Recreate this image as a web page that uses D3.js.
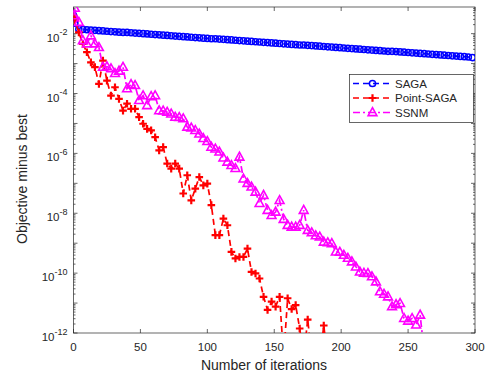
<!DOCTYPE html>
<html>
<head>
<meta charset="utf-8">
<script src="https://cdn.jsdelivr.net/npm/d3@7"></script>
<style>
  body { margin: 0; background: #fff; }
  svg { display: block; font-family: "Liberation Sans", Arial, Helvetica, sans-serif; }
  text { fill: #262626; }
</style>
</head>
<body>
<svg id="chart" width="499" height="376"></svg>
<script>
// values are log10(objective - best)
// recorded at iteration 0, then every 3 iterations starting at 1
const iterStep = 3
const xTicks = [0, 50, 100, 150, 200, 250, 300]
const yTickExp = [-12, -10, -8, -6, -4, -2]
const seriesNames = ['SAGA', 'Point-SAGA', 'SSNM']

const sagaLog = [-1.40, -1.65,
  -1.85,-1.86,-1.87,-1.88,-1.89,-1.90,-1.91,-1.92,-1.93,-1.94,
  -1.95,-1.96,-1.96,-1.97,-1.98,-1.99,-2.00,-2.01,-2.02,-2.03,
  -2.04,-2.05,-2.06,-2.07,-2.08,-2.09,-2.10,-2.11,-2.12,-2.13,
  -2.14,-2.15,-2.16,-2.17,-2.17,-2.18,-2.19,-2.20,-2.21,-2.22,
  -2.23,-2.24,-2.25,-2.26,-2.27,-2.28,-2.29,-2.30,-2.31,-2.32,
  -2.33,-2.34,-2.35,-2.36,-2.37,-2.38,-2.38,-2.39,-2.40,-2.41,
  -2.42,-2.43,-2.44,-2.45,-2.46,-2.47,-2.48,-2.49,-2.50,-2.51,
  -2.52,-2.53,-2.54,-2.55,-2.56,-2.57,-2.58,-2.59,-2.59,-2.60,
  -2.61,-2.62,-2.63,-2.64,-2.65,-2.66,-2.67,-2.68,-2.69,-2.70,
  -2.71,-2.72,-2.73,-2.74,-2.75,-2.76,-2.77,-2.78,-2.80]

const pointSagaLog = [-1.40,
  -1.55,-1.96,-2.34,-2.62,-2.96,-3.12,-3.68,-2.90,-3.57,-4.07,
  -3.79,-4.18,-4.57,-4.34,-4.51,-4.51,-4.79,-5.01,-5.18,-5.23,
  -5.46,-5.90,-5.79,-6.34,-6.51,-6.34,-6.51,-7.34,-6.73,-7.57,
  -7.18,-6.79,-7.07,-7.01,-7.73,-8.73,-8.73,-8.18,-8.40,-9.29,
  -9.51,-9.46,-9.46,-9.18,-9.96,-10.01,-10.18,-10.79,-11.23,-10.95,
  -11.12,-10.79,-12.8,-10.84,-11.20,-11.07,-11.85,-12.8,-11.55,-12.8,
  -12.9,-12.9,-11.75,-12.9]

const ssnmLog = [-1.40,
  -1.15,-1.62,-2.23,-2.34,-2.07,-2.34,-2.46,-3.12,-3.10,-3.17,
  -3.33,-3.25,-3.12,-3.84,-3.70,-3.73,-4.23,-4.07,-4.40,-4.10,
  -4.07,-4.57,-4.58,-4.62,-4.68,-4.79,-4.80,-4.84,-5.12,-5.15,
  -5.23,-5.35,-5.50,-5.60,-5.79,-5.85,-5.95,-6.15,-6.29,-6.40,
  -6.50,-6.12,-6.85,-7.00,-7.12,-7.29,-7.67,-7.40,-7.90,-8.07,
  -7.96,-7.57,-8.20,-8.40,-8.46,-8.46,-8.40,-7.90,-8.57,-8.65,
  -8.75,-8.79,-8.96,-8.98,-9.01,-9.29,-9.30,-9.40,-9.50,-9.62,
  -9.79,-9.96,-10.00,-10.01,-10.12,-10.29,-10.62,-10.70,-10.79,-11.12,
  -11.05,-11.01,-11.51,-11.60,-11.51,-11.73,-11.40,-12.6]

const plotLeft = 73.5, plotRight = 475, plotTop = 7, plotBottom = 333
const axisColor = '#262626'

let svg = d3.select('#chart')

let toPoints = (arr) => arr.map((v, i) => ({
  it: i === 0 ? 0 : 1 + iterStep * (i - 1),
  val: Math.pow(10, v)
}))

let xScale = d3.scaleLinear().domain([0, 300]).range([plotLeft, plotRight])
let yScale = d3.scaleLog().domain([1e-12, Math.pow(10, -1.11)]).range([plotBottom, plotTop])

svg.append('defs').append('clipPath').attr('id', 'plotclip')
  .append('rect').attr('x', plotLeft).attr('y', plotTop)
  .attr('width', plotRight - plotLeft).attr('height', plotBottom - plotTop)

svg.append('rect').attr('x', plotLeft).attr('y', plotTop)
  .attr('width', plotRight - plotLeft).attr('height', plotBottom - plotTop)
  .style('fill', '#fff')

// axes, ticks pointing inward as in matlab
let axes = svg.append('g').classed('axes', true)
let minorTicks = []
for (let e = -12; e < -1; e++) {
  for (let k = 1; k < 10; k++) {
    let v = k * Math.pow(10, e)
    if (v <= yScale.domain()[1]) minorTicks.push({v: v, major: k === 1})
  }
}
axes.selectAll('.ytick-l').data(minorTicks).enter().append('line')
  .attr('x1', plotLeft).attr('x2', d => plotLeft + (d.major ? 4 : 2))
  .attr('y1', d => yScale(d.v)).attr('y2', d => yScale(d.v))
  .style('stroke', axisColor).style('stroke-width', 0.7)
axes.selectAll('.ytick-r').data(minorTicks).enter().append('line')
  .attr('x1', plotRight).attr('x2', d => plotRight - (d.major ? 4 : 2))
  .attr('y1', d => yScale(d.v)).attr('y2', d => yScale(d.v))
  .style('stroke', axisColor).style('stroke-width', 0.7)
axes.selectAll('.xtick-b').data(xTicks).enter().append('line')
  .attr('x1', d => xScale(d)).attr('x2', d => xScale(d))
  .attr('y1', plotBottom).attr('y2', plotBottom - 4)
  .style('stroke', axisColor).style('stroke-width', 0.7)
axes.selectAll('.xtick-t').data(xTicks).enter().append('line')
  .attr('x1', d => xScale(d)).attr('x2', d => xScale(d))
  .attr('y1', plotTop).attr('y2', plotTop + 4)
  .style('stroke', axisColor).style('stroke-width', 0.7)
axes.append('rect').attr('x', plotLeft).attr('y', plotTop)
  .attr('width', plotRight - plotLeft).attr('height', plotBottom - plotTop)
  .style('fill', 'none').style('stroke', axisColor).style('stroke-width', 0.7)

axes.selectAll('.xlabel').data(xTicks).enter().append('text')
  .attr('x', d => xScale(d)).attr('y', plotBottom + 18)
  .style('font-size', '11.5px').style('text-anchor', 'middle')
  .text(d => d)

let ylab = axes.selectAll('.ylabel').data(yTickExp).enter().append('text')
  .attr('x', plotLeft - 6).attr('y', d => yScale(Math.pow(10, d)) + 8)
  .style('font-size', '11.5px').style('text-anchor', 'end')
ylab.append('tspan').text('10')
ylab.append('tspan').attr('dy', -6.5).style('font-size', '9px').text(d => d)

svg.append('text').attr('x', 264).attr('y', 370)
  .style('font-size', '14px').style('text-anchor', 'middle')
  .text('Number of iterations')
svg.append('text').attr('transform', 'translate(27, 179) rotate(-90)')
  .style('font-size', '14px').style('text-anchor', 'middle')
  .text('Objective minus best')

// series
let plot = svg.append('g').attr('clip-path', 'url(#plotclip)')
let lineGen = d3.line().x(d => xScale(d.it)).y(d => yScale(d.val))

let styles = [
  {data: toPoints(sagaLog), color: '#0000ff', dash: '6,4', marker: 'circle'},
  {data: toPoints(pointSagaLog), color: '#ff0000', dash: '6,4', marker: 'plus'},
  {data: toPoints(ssnmLog), color: '#ff00ff', dash: '7,3,2,3', marker: 'triangle'}
]

let drawMarker = function (g, type, color) {
  if (type === 'circle') {
    g.append('circle').attr('r', 3.1)
      .style('fill', 'none').style('stroke', color).style('stroke-width', 1.5)
  } else if (type === 'plus') {
    g.append('path').attr('d', 'M-3.8,0H3.8M0,-3.8V3.8')
      .style('fill', 'none').style('stroke', color).style('stroke-width', 2.2)
  } else {
    g.append('path').attr('d', 'M0,-4.8L4.4,3.1L-4.4,3.1Z')
      .style('fill', 'none').style('stroke', color).style('stroke-width', 1.6)
      .style('stroke-linejoin', 'miter')
  }
}

styles.forEach(s => {
  plot.append('path').attr('d', lineGen(s.data))
    .style('fill', 'none').style('stroke', s.color).style('stroke-width', 1.7)
    .style('stroke-dasharray', s.dash)
  plot.append('g').selectAll('g').data(s.data).enter().append('g')
    .attr('transform', d => `translate(${xScale(d.it)},${yScale(d.val)})`)
    .each(function () { drawMarker(d3.select(this), s.marker, s.color) })
})

// legend
let legend = svg.append('g').classed('legend', true)
legend.append('rect').attr('x', 349.5).attr('y', 74.5).attr('width', 124).attr('height', 48)
  .style('fill', '#fff').style('stroke', axisColor).style('stroke-width', 0.7)
styles.forEach((s, i) => {
  let ly = 83.5 + i * 14.5
  legend.append('line').attr('x1', 353).attr('x2', 392).attr('y1', ly).attr('y2', ly)
    .style('stroke', s.color).style('stroke-width', 1.7).style('stroke-dasharray', s.dash)
  let m = legend.append('g').attr('transform', `translate(372.5,${ly})`)
  drawMarker(m, s.marker, s.color)
  legend.append('text').attr('x', 395).attr('y', ly + 4)
    .style('font-size', '11.5px').text(seriesNames[i])
})
</script>
</body>
</html>
